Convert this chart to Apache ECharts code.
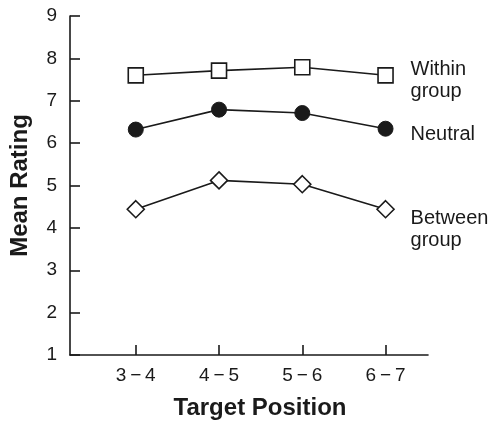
<!DOCTYPE html>
<html>
<head>
<meta charset="utf-8">
<script src="https://cdn.jsdelivr.net/npm/echarts@6/dist/echarts.min.js"></script>
<style>html,body{margin:0;padding:0;background:#fff;}#c{width:493px;height:424px;}</style>
</head>
<body>
<div id="c"></div>
<script>
var categories = ['3\u2009\u2212\u20094', '4\u2009\u2212\u20095', '5\u2009\u2212\u20096', '6\u2009\u2212\u20097'];
var withinGroup = [7.60, 7.71, 7.79, 7.60];
var neutral = [6.32, 6.79, 6.71, 6.34];
var betweenGroup = [4.44, 5.12, 5.03, 4.44];
var yTicks = [1, 2, 3, 4, 5, 6, 7, 8, 9];

var font = 'Liberation Sans, Arial, Helvetica, sans-serif';
function pts(arr) { return arr.map(function (v, i) { return [i + 1, v]; }); }

var chart = echarts.init(document.getElementById('c'), null, { renderer: 'canvas' });
var lineStyle = { color: '#1a1a1a', width: 1.6 };
function endLab(text, dy) {
  return {
    show: true,
    formatter: text,
    position: 'right',
    distance: 0,
    offset: [25, dy],
    align: 'left',
    color: '#1a1a1a',
    fontFamily: font,
    fontSize: 20,
    lineHeight: 22
  };
}
chart.setOption({
  animation: false,
  backgroundColor: '#fff',
  grid: { left: 68, right: 65, top: 16, bottom: 69, containLabel: false },
  xAxis: {
    type: 'value',
    min: 0.21,
    max: 4.51,
    axisLine: { show: true, lineStyle: { color: '#1a1a1a', width: 1.6 } },
    axisTick: { show: true, inside: true, length: 10, customValues: [1, 2, 3, 4], lineStyle: { color: '#1a1a1a', width: 1.6 } },
    axisLabel: {
      customValues: [1, 2, 3, 4],
      formatter: function (v) { return categories[Math.round(v) - 1]; },
      color: '#1a1a1a', fontFamily: font, fontSize: 19, margin: 11
    },
    splitLine: { show: false }
  },
  yAxis: {
    type: 'value',
    min: 1, max: 9, interval: 1,
    axisLine: { show: true, lineStyle: { color: '#1a1a1a', width: 1.6 } },
    axisTick: { show: true, inside: true, length: 10, lineStyle: { color: '#1a1a1a', width: 1.6 } },
    axisLabel: {
      formatter: function (v) { return yTicks.indexOf(v) >= 0 ? String(v) : ''; },
      color: '#1a1a1a', fontFamily: font, fontSize: 19, margin: 13
    },
    splitLine: { show: false },
    name: 'Mean Rating',
    nameLocation: 'middle',
    nameGap: 38,
    nameTextStyle: { color: '#1a1a1a', fontFamily: font, fontSize: 24, fontWeight: 'bold' }
  },
  graphic: [{
    type: 'text',
    x: 260,
    y: 408,
    style: { text: 'Target Position', fill: '#1a1a1a', font: 'bold 24px ' + font, textAlign: 'center', textVerticalAlign: 'middle' }
  }],
  series: [
    {
      name: 'Within group', type: 'line', data: pts(withinGroup),
      symbol: 'rect', symbolSize: 15,
      itemStyle: { color: '#fff', borderColor: '#1a1a1a', borderWidth: 1.6 },
      lineStyle: lineStyle,
      endLabel: endLab('Within\ngroup', 5)
    },
    {
      name: 'Neutral', type: 'line', data: pts(neutral),
      symbol: 'circle', symbolSize: 15,
      itemStyle: { color: '#1a1a1a', borderColor: '#1a1a1a', borderWidth: 1 },
      lineStyle: lineStyle,
      endLabel: endLab('Neutral', 6)
    },
    {
      name: 'Between group', type: 'line', data: pts(betweenGroup),
      symbol: 'diamond', symbolSize: 17,
      itemStyle: { color: '#fff', borderColor: '#1a1a1a', borderWidth: 1.6 },
      lineStyle: lineStyle,
      endLabel: endLab('Between\ngroup', 20)
    }
  ]
});
</script>
</body>
</html>
